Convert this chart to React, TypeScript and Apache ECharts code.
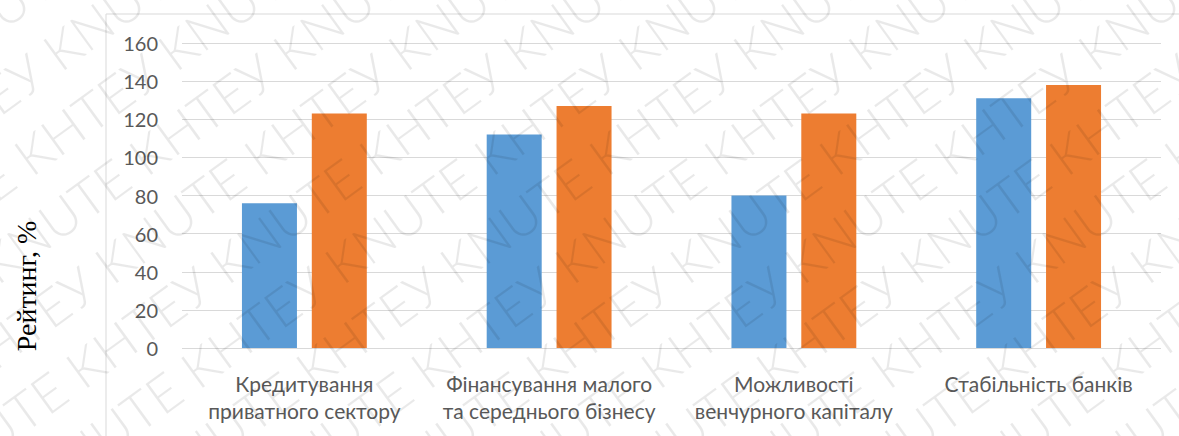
import React, { useEffect, useRef } from "react";
import * as echarts from "echarts";

const categories = [
  "Кредитування\nприватного сектору",
  "Фінансування малого\nта середнього бізнесу",
  "Можливості\nвенчурного капіталу",
  "Стабільність банків",
];
const seriesBlue = [76, 112, 80, 131];
const seriesOrange = [123, 127, 123, 138];
const yAxisTitle = "Рейтинг, %";
const watermarkWord = "KHTEУ KNUTE ";

export default function App() {
  const ref = useRef<HTMLDivElement>(null);
  useEffect(() => {
    if (!ref.current) return;
    const chart = echarts.init(ref.current, null, { renderer: "svg" });
    const wmText = Array(7).fill(watermarkWord).join("");
    const wm: any[] = [];
    for (let i = -7; i < 12; i++) {
      wm.push({
        type: "text",
        x: -300 + i * 115,
        y: 780,
        rotation: (36 * Math.PI) / 180,
        silent: true,
        z: 100,
        style: {
          text: wmText,
          fontFamily: "Lato",
          fontWeight: 300,
          fontSize: 52,
          fill: "rgba(0,0,0,0.085)",
        },
      });
    }
    chart.setOption({
      animation: false,
      grid: { left: 182, right: 18, top: 43, bottom: 88 },
      xAxis: {
        type: "category",
        data: categories,
        axisLine: { show: false },
        axisTick: { show: false },
        axisLabel: {
          color: "#595959",
          fontFamily: "Lato",
          fontSize: 21,
          lineHeight: 27,
          margin: 22,
          interval: 0,
        },
      },
      yAxis: {
        type: "value",
        min: 0,
        max: 160,
        interval: 20,
        axisLine: { show: false },
        axisTick: { show: false },
        axisLabel: {
          color: "#595959",
          fontFamily: "Lato",
          fontSize: 20,
          margin: 24,
        },
        splitLine: { lineStyle: { color: "#d9d9d9", width: 1 } },
      },
      series: [
        {
          type: "bar",
          data: seriesBlue,
          barWidth: 55,
          barGap: "27%",
          itemStyle: { color: "#5b9bd5" },
        },
        {
          type: "bar",
          data: seriesOrange,
          barWidth: 55,
          itemStyle: { color: "#ed7d31" },
        },
      ],
      graphic: [
        {
          type: "line",
          shape: { x1: 106, y1: 14, x2: 1179, y2: 14 },
          style: { stroke: "#d9d9d9", lineWidth: 1 },
        },
        {
          type: "line",
          shape: { x1: 106, y1: 14, x2: 106, y2: 436 },
          style: { stroke: "#d9d9d9", lineWidth: 1 },
        },
        {
          type: "text",
          x: 26,
          y: 286,
          rotation: Math.PI / 2,
          style: {
            text: yAxisTitle,
            fontFamily: "Liberation Serif",
            fontSize: 28,
            fill: "#000",
            align: "center",
            verticalAlign: "middle",
          },
        },
        ...wm,
      ],
    });
    return () => chart.dispose();
  }, []);
  return (
    <div
      ref={ref}
      style={{ position: "fixed", left: 0, top: 0, width: 1179, height: 436, background: "#fff" }}
    />
  );
}
